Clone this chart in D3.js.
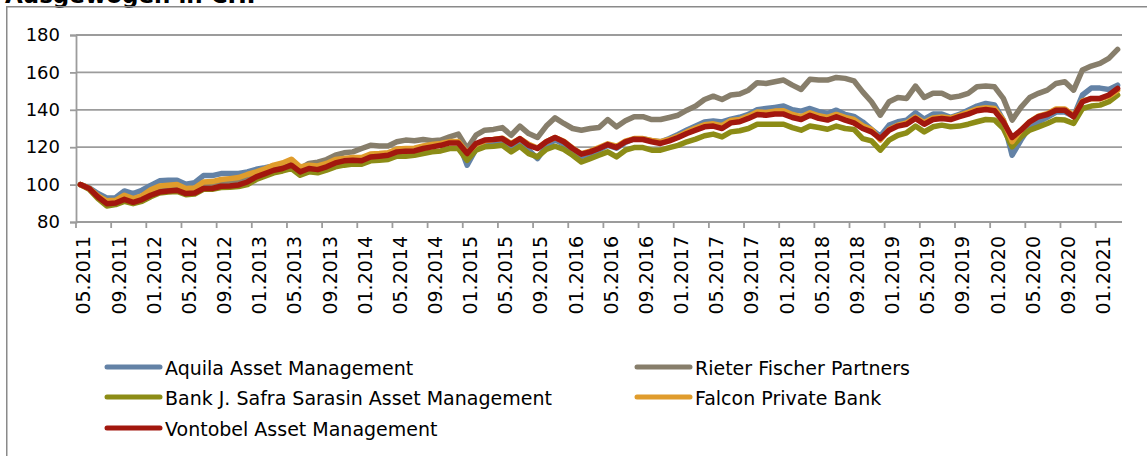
<!DOCTYPE html>
<html>
<head>
<meta charset="utf-8">
<script src="https://cdn.jsdelivr.net/npm/d3@7"></script>
<style>
  html, body { margin: 0; padding: 0; background: #fff; }
  svg { display: block; }
  text { font-family: "DejaVu Sans", Verdana, sans-serif; fill: #000; }
</style>
</head>
<body>
<svg id="chart" width="1147" height="456"></svg>
<script>
// ---- data ----
const title = "Ausgewogen in CHF";
const startYear = 2011, startMonth = 5, monthCount = 119;
const yTicks = [80, 100, 120, 140, 160, 180];
const seriesNames = ["Aquila Asset Management", "Rieter Fischer Partners", "Bank J. Safra Sarasin Asset Management", "Falcon Private Bank", "Vontobel Asset Management"];
const seriesColors = ["#6382a6", "#877e6b", "#8c8c16", "#e09c2c", "#a2170e"];

const aquila = [100,98.3,95.2,92.9,93,96.6,95.2,97,99.6,102,102.3,102.3,100.2,101,104.8,104.8,105.9,105.9,105.9,106.8,108.2,109,110,111,112.5,108.5,109.8,109.2,110.5,112.8,113.5,114,113.8,116,116.2,116.5,118.6,118.8,119,120.3,121,121.6,122.8,122.8,110.4,119,121.5,122.5,123.3,120,123.3,118.5,113.9,120.5,124,121.6,118.5,115,116.5,118.5,121,119.5,122.6,124.5,124.5,123.4,122.9,124.6,126.8,129.2,131.3,133.5,134,133.5,135,136,137.5,140,140.7,141.3,142,140,139.3,140.7,139,138,139.8,137.5,136.5,133.5,129.5,125.9,131.8,133.6,134.5,138.4,135,137.7,137.7,136,137.5,139.8,142,143.4,142.6,134.5,115.7,123.8,130.9,133.6,136,138.8,138.8,136.5,147.9,151.6,151.6,150.9,153.2];
const rieter = [100,98,93.8,90.5,91,93.2,91.5,93,95.5,97.5,98,98.3,96.3,96.7,99.5,99.6,100.8,101.2,101.8,103.3,105.5,107.2,109,110.2,112,108.5,111.3,112,113.4,115.7,117,117.5,119.3,121,120.7,120.7,122.9,123.8,123.4,124.1,123.4,123.8,125.5,127,119.3,126.4,129.1,129.5,130.5,126.4,131.3,127.3,125.2,131.3,135.7,132.7,130,129.1,130,130.5,134.8,130.9,134.1,136.3,136.3,134.8,134.8,135.9,137.1,139.8,142,145.5,147.3,145.5,147.9,148.4,150.5,154.5,154.1,155,155.9,153.2,150.9,156.3,155.9,155.9,157.3,156.8,155.5,149.6,144.3,137.1,144.3,146.6,146.1,152.7,146.6,148.8,148.8,146.6,147.3,148.8,152.3,152.7,152.3,146.1,134.5,141.3,146.6,148.8,150.5,154.1,155,150.5,161.3,163.4,164.8,167.5,172.3];
const safra = [100,97.5,92.5,88.6,89.3,91,89.8,91,93.5,95.5,96,96.3,94.6,95,97.5,97.5,98.4,98.6,99,100,102.7,104.5,106.3,107.3,108.6,105,106.8,106.3,107.7,109.5,110.4,111,110.9,112.7,113,113.4,115.2,115.2,115.7,116.6,117.5,118,119.3,119.3,113,118.4,120.2,120.5,121,117.5,120.5,116.6,114.8,118.8,120.5,118.8,115.7,112.1,113.9,115.7,117.5,114.8,118.4,119.8,119.8,118.4,118.4,119.8,121,122.9,124.3,126.1,127,125.5,128.2,128.8,130,132.3,132.3,132.3,132.3,130.5,129.1,131.3,130.5,129.6,131.3,130,129.5,124.6,123.4,118.4,123.8,126.4,127.7,131.3,128.2,130.9,131.8,130.9,131.3,132.3,133.6,134.8,134.5,130,120.2,125.5,129.1,130.9,132.7,134.8,134.5,132.7,140.7,142,142.5,144.3,147.9];
const falcon = [100,98,94,91.3,91.6,94.3,92.5,94,97.2,99.2,99.6,100,97.9,98.2,101.4,101.6,102.7,103.2,103.8,105.4,106.8,108.4,110.4,111.6,113.6,109.5,110.4,110,111.3,113.4,114,114.5,114.5,116.4,116.6,117,119,119.3,119.5,120.7,121.4,122,123,123,117,121.5,123.4,124.1,124.8,122,124.6,121.5,119.5,122.9,125.2,123.2,119.5,116.5,117.9,119.8,121.8,120.5,123.2,124.6,124.6,123.6,122.9,124.1,125.9,128.2,130.2,132,132.5,131.5,134.3,134.8,136.6,138.8,138.6,139.3,139.5,137.5,136.3,138.4,136.8,135.9,137.5,135.9,134.8,131.5,129.5,123.8,129.5,131.8,133,136.1,133.2,135.6,136.1,135.6,137,138.6,140.4,141.1,140.7,134.5,122.9,129.1,133.6,136.6,137.9,140.4,140.4,136.8,144.8,145.9,145.9,147.3,150.4];
const vontobel = [100,97.9,93.4,89.8,90.2,92.1,90.5,92,94.3,96,96.6,97,95.2,95.5,97.9,97.9,99.1,99.3,99.8,101.4,104.1,105.9,107.7,108.6,110.4,106.8,108.6,108,109.5,111.6,112.7,113,112.7,114.8,115.2,115.7,117.5,117.9,118,119.3,120.2,121,122.3,122.3,116.6,122,123.8,124.1,124.6,121.6,124.6,121,119.3,122.9,125.2,122.9,119.3,116.3,117.5,119.3,121.4,119.8,122.9,124.3,124.1,122.9,122,123.4,125.2,127.3,129.1,130.9,131.3,130,133,133.6,135.4,137.5,137.1,137.7,137.7,135.9,134.8,137.1,135.4,134.5,136.3,134.5,133,130,128.2,124.6,129.1,131.3,132.3,135.4,132.3,134.8,135.4,134.8,136.3,137.7,139.5,140.2,139.5,133.6,125.2,129.1,133.6,136.3,137.5,139.8,139.8,136.3,144.3,146.1,146.1,147.9,151.4];
const seriesValues = [aquila, rieter, safra, falcon, vontobel];

// category labels (months)
const months = d3.range(monthCount).map(i => {
  const m = (startMonth - 1 + i) % 12 + 1;
  const y = startYear + Math.floor((startMonth - 1 + i) / 12);
  return String(m).padStart(2, "0") + "." + y;
});
const tickEvery = 4;

// ---- layout ----
const svg = d3.select("#chart");
const plot = { left: 76, right: 1122, top: 35, bottom: 222 };

const x = d3.scaleBand().domain(months).range([plot.left, plot.right]).paddingInner(0).paddingOuter(0);
const y = d3.scaleLinear().domain([80, 180]).range([plot.bottom, plot.top]);
const xc = d => x(d) + x.bandwidth() / 2;

// title (cropped at top)
svg.append("text").attr("x", 5).attr("y", 3)
  .style("font-size", "23px").style("font-weight", "bold").text(title);

// outer frame
svg.append("path")
  .attr("d", `M6.75,456 L6.75,6.75 L1147,6.75`)
  .attr("fill", "none").attr("stroke", "#8a8a8a").attr("stroke-width", 1.5);

// gridlines
svg.append("g").selectAll("line").data(yTicks.filter(v => v !== 80)).join("line")
  .attr("x1", plot.left).attr("x2", plot.right)
  .attr("y1", d => y(d)).attr("y2", d => y(d))
  .attr("stroke", "#9c9c9c").attr("stroke-width", 1.8);

// y axis
const yAxis = svg.append("g").attr("transform", `translate(${plot.left},0)`)
  .call(d3.axisLeft(y).tickValues(yTicks).tickSize(6).tickPadding(10).tickFormat(d3.format("d")));
yAxis.select(".domain").attr("stroke", "#9c9c9c").attr("stroke-width", 1.8);
yAxis.selectAll(".tick line").attr("stroke", "#9c9c9c").attr("stroke-width", 1.8);
yAxis.selectAll(".tick text").style("font-size", "18px").style("font-family", "'DejaVu Sans', Verdana, sans-serif").attr("fill", "#000");

// x axis
const tickMonths = months.filter((d, i) => i % tickEvery === 0);
const xAxis = svg.append("g").attr("transform", `translate(0,${plot.bottom})`);
xAxis.append("line").attr("x1", plot.left).attr("x2", plot.right).attr("y1", 0).attr("y2", 0)
  .attr("stroke", "#9c9c9c").attr("stroke-width", 1.8);
xAxis.selectAll("line.tk").data(tickMonths).join("line").attr("class", "tk")
  .attr("x1", d => x(d)).attr("x2", d => x(d)).attr("y1", 0).attr("y2", 6)
  .attr("stroke", "#9c9c9c").attr("stroke-width", 1.8);
xAxis.selectAll("text").data(tickMonths).join("text")
  .attr("transform", d => `translate(${xc(d) + 3},14) rotate(-90)`)
  .attr("text-anchor", "end").attr("dominant-baseline", "central")
  .style("font-size", "19px").text(d => d);

// series lines
const line = d3.line().x((d, i) => xc(months[i])).y(d => y(d));
svg.append("g").selectAll("path").data(seriesValues).join("path")
  .attr("d", d => line(d))
  .attr("fill", "none")
  .attr("stroke", (d, i) => seriesColors[i])
  .attr("stroke-width", 5.5)
  .attr("stroke-linejoin", "round").attr("stroke-linecap", "round");

// legend
const legendPos = [
  { lx: 107, ty: 367 }, { lx: 637, ty: 367 },
  { lx: 107, ty: 397 }, { lx: 637, ty: 397 },
  { lx: 107, ty: 428 }
];
const lg = svg.append("g").selectAll("g").data(seriesNames).join("g")
  .attr("transform", (d, i) => `translate(${legendPos[i].lx},${legendPos[i].ty})`);
lg.append("line").attr("x1", 0).attr("x2", 53).attr("y1", 0).attr("y2", 0)
  .attr("stroke", (d, i) => seriesColors[i]).attr("stroke-width", 5).attr("stroke-linecap", "round");
lg.append("text").attr("x", 58).attr("y", 1).attr("dominant-baseline", "central")
  .style("font-size", "19px").text(d => d);
</script>
</body>
</html>
